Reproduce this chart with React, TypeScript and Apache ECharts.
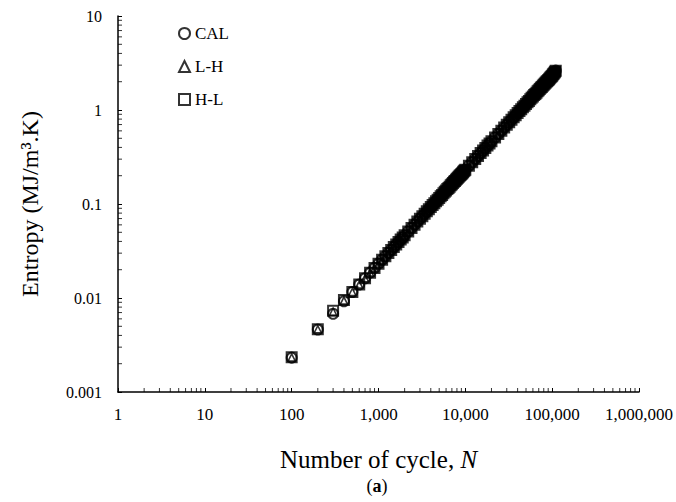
import React, { useEffect, useRef } from "react";
import * as echarts from "echarts";

const cycles = [
  100, 200, 300, 400, 500, 600, 700, 800, 900, 1000,
  1100, 1200, 1300, 1400, 1500, 1600, 1700, 1800, 1900, 2000,
  2200, 2400, 2600, 2800, 3000, 3200, 3400, 3600, 3800, 4000,
  4200, 4400, 4600, 4800, 5000, 5200, 5400, 5600, 5800, 6000,
  6200, 6400, 6600, 6800, 7000, 7200, 7400, 7600, 7800, 8000,
  8200, 8400, 8600, 8800, 9000, 9200, 9400, 9600, 9800, 10000,
  11000, 12000, 13000, 14000, 15000, 16000, 17000, 18000, 19000, 20000,
  22000, 24000, 26000, 28000, 30000, 32000, 34000, 36000, 38000, 40000,
  42000, 44000, 46000, 48000, 50000, 52000, 54000, 56000, 58000, 60000,
  62000, 64000, 66000, 68000, 70000, 72000, 74000, 76000, 78000, 80000,
  82000, 84000, 86000, 88000, 90000, 92000, 94000, 96000, 98000, 100000,
  102000, 104000, 106000, 108000, 110000,
];

// shared values from N = 500 onward (the three series overlap there)
const sharedTail = [
  0.0116, 0.0139, 0.0162, 0.0186, 0.0209, 0.0232,
  0.0255, 0.0278, 0.0302, 0.0325, 0.0348, 0.0371, 0.0394, 0.0418, 0.0441, 0.0464,
  0.0510, 0.0557, 0.0603, 0.0650, 0.0696, 0.0742, 0.0789, 0.0835, 0.0882, 0.0928,
  0.0974, 0.102, 0.107, 0.111, 0.116, 0.121, 0.125, 0.130, 0.135, 0.139,
  0.144, 0.148, 0.153, 0.158, 0.162, 0.167, 0.172, 0.176, 0.181, 0.186,
  0.190, 0.195, 0.200, 0.204, 0.209, 0.213, 0.218, 0.223, 0.227, 0.232,
  0.255, 0.278, 0.302, 0.325, 0.348, 0.371, 0.394, 0.418, 0.441, 0.464,
  0.510, 0.557, 0.603, 0.650, 0.696, 0.742, 0.789, 0.835, 0.882, 0.928,
  0.974, 1.02, 1.07, 1.11, 1.16, 1.21, 1.25, 1.30, 1.35, 1.39,
  1.44, 1.48, 1.53, 1.58, 1.62, 1.67, 1.72, 1.76, 1.81, 1.86,
  1.90, 1.95, 2.00, 2.04, 2.09, 2.13, 2.18, 2.23, 2.27, 2.32,
  2.38, 2.43, 2.49, 2.55, 2.62,
];

const calEntropy = [0.00232, 0.00462, 0.0068, 0.00925, ...sharedTail];
const lhEntropy = [0.00233, 0.00465, 0.00715, 0.0094, ...sharedTail];
const hlEntropy = [0.00234, 0.00466, 0.0073, 0.0095, ...sharedTail];

const seriesNames = ["CAL", "L-H", "H-L"];
const xTickLabels = ["1", "10", "100", "1,000", "10,000", "100,000", "1,000,000"];
const yTickLabels = ["0.001", "0.01", "0.1", "1", "10"];

const FONT = "'Liberation Serif', 'Times New Roman', serif";

export default function App() {
  const ref = useRef<HTMLDivElement>(null);
  useEffect(() => {
    if (!ref.current) return;
    const chart = echarts.init(ref.current, undefined, { renderer: "svg" });

    const toPairs = (ys: number[]) => cycles.map((n, i) => [n, ys[i]]);

    const minorX: number[][] = [];
    for (let e = 0; e < 6; e++) for (let k = 2; k <= 9; k++) minorX.push([k * Math.pow(10, e), 0.001]);
    const minorY: number[][] = [];
    for (let e = -3; e < 1; e++) for (let k = 2; k <= 9; k++) minorY.push([1, k * Math.pow(10, e)]);

    const markerStyle = { color: "rgba(0,0,0,0)", borderColor: "#000", borderWidth: 2 };

    chart.setOption({
      animation: false,
      backgroundColor: "#fff",
      grid: { left: 118, right: 37, top: 16, bottom: 110 },
      legend: {
        data: seriesNames,
        orient: "vertical",
        left: 178,
        top: 25,
        itemWidth: 11,
        itemHeight: 11,
        itemGap: 16,
        padding: 0,
        textStyle: { fontFamily: FONT, fontSize: 17, color: "#000", padding: [0, 0, 0, 0] },
      },
      xAxis: {
        type: "log",
        logBase: 10,
        min: 1,
        max: 1000000,
        splitLine: { show: false },
        axisLine: { lineStyle: { color: "#000", width: 1.5 } },
        axisTick: { inside: true, length: 4, lineStyle: { color: "#000", width: 1 } },
        axisLabel: {
          color: "#000",
          fontFamily: FONT,
          fontSize: 17,
          margin: 14,
          formatter: (v: number) => xTickLabels[Math.round(Math.log10(v))],
        },
        name: "{a|Number of cycle, }{b|N}",
        nameLocation: "middle",
        nameGap: 55,
        nameTextStyle: {
          rich: {
            a: { fontFamily: FONT, fontSize: 25, color: "#000" },
            b: { fontFamily: FONT, fontSize: 25, color: "#000", fontStyle: "italic" },
          },
        },
      },
      yAxis: {
        type: "log",
        logBase: 10,
        min: 0.001,
        max: 10,
        splitLine: { show: false },
        axisLine: { lineStyle: { color: "#000", width: 1.5 } },
        axisTick: { inside: true, length: 4, lineStyle: { color: "#000", width: 1 } },
        axisLabel: {
          color: "#000",
          fontFamily: FONT,
          fontSize: 16,
          margin: 16,
          formatter: (v: number) => yTickLabels[Math.round(Math.log10(v)) + 3],
        },
        name: "Entropy (MJ/m³.K)",
        nameLocation: "middle",
        nameGap: 76,
        nameTextStyle: { fontFamily: FONT, fontSize: 24, color: "#000" },
      },
      series: [
        {
          name: "CAL",
          type: "scatter",
          symbol: "circle",
          symbolSize: 10,
          data: toPairs(calEntropy),
          itemStyle: markerStyle,
          clip: false,
        },
        {
          name: "H-L",
          type: "scatter",
          symbol: "rect",
          symbolSize: 10,
          data: toPairs(hlEntropy),
          itemStyle: markerStyle,
          clip: false,
        },
        {
          name: "L-H",
          type: "scatter",
          symbol: "triangle",
          symbolSize: 7,
          data: toPairs(lhEntropy),
          itemStyle: { color: "rgba(0,0,0,0)", borderColor: "#000", borderWidth: 1.6 },
          clip: false,
        },
        {
          type: "scatter",
          symbol: "rect",
          symbolSize: [1, 4],
          symbolOffset: [0, -2],
          data: minorX,
          itemStyle: { color: "#000" },
          silent: true,
          clip: false,
          z: 1,
        },
        {
          type: "scatter",
          symbol: "rect",
          symbolSize: [4, 1],
          symbolOffset: [2, 0],
          data: minorY,
          itemStyle: { color: "#000" },
          silent: true,
          clip: false,
          z: 1,
        },
      ],
      graphic: [
        {
          type: "text",
          x: 377,
          y: 477,
          style: {
            text: "({b|a})",
            fontFamily: FONT,
            fontSize: 18,
            fill: "#000",
            textAlign: "center",
            rich: { b: { fontFamily: FONT, fontSize: 18, fontWeight: "bold", fill: "#000" } },
          },
        },
      ],
    });
    return () => chart.dispose();
  }, []);
  return <div ref={ref} style={{ position: "fixed", left: 0, top: 0, width: 676, height: 502 }} />;
}
